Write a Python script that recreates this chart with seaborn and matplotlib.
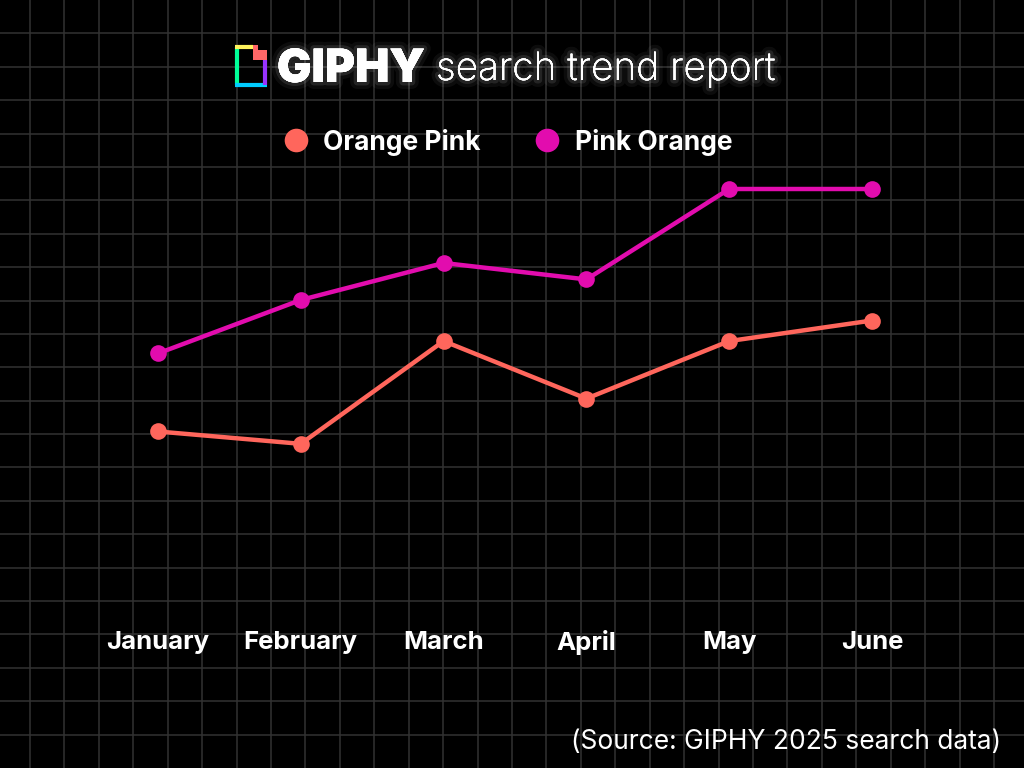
import matplotlib
matplotlib.use("Agg")
import matplotlib.pyplot as plt
import matplotlib.patheffects as pe
from matplotlib.lines import Line2D
import seaborn as sns
import pandas as pd

months = ["January", "February", "March", "April", "May", "June"]
orange_pink = [41, 38, 63, 49, 63, 68]
pink_orange = [60, 73, 82, 78, 100, 100]
series_names = ["Orange Pink", "Pink Orange"]
colors = {"Orange Pink": "#ff665c", "Pink Orange": "#e20cae"}

df = pd.DataFrame({
    "month": months * 2,
    "value": orange_pink + pink_orange,
    "series": [series_names[0]] * len(months) + [series_names[1]] * len(months),
})

sns.set_theme(style="dark")
FONT = "Inter"
plt.rcParams["font.family"] = [FONT, "DejaVu Sans"]

W, H = 1024, 768
fig = plt.figure(figsize=(W / 100, H / 100), dpi=100, facecolor="black")

# background grid (decorative, pixel coordinates)
bg = fig.add_axes([0, 0, 1, 1])
bg.set_xlim(0, W)
bg.set_ylim(H, 0)
bg.set_facecolor("black")
bg.axis("off")
gc = "#323232"
for k in range(29):
    bg.axvline(30 + 34.43 * k, color=gc, lw=1.1, zorder=0)
for k in range(1, 23):
    bg.axhline(k * H / 23, color=gc, lw=1.1, zorder=0)

# main axes
ax = fig.add_axes([86.6 / W, (H - 600) / H, (943.4 - 86.6) / W, (600 - 189) / H])
ax.set_facecolor("none")
sns.lineplot(data=df, x="month", y="value", hue="series", palette=colors,
             marker="o", markersize=12, markeredgewidth=0, linewidth=3.2,
             ax=ax, legend=False, sort=False)
for l in ax.lines:
    l.set_clip_on(False)
ax.set_xlim(-0.5, len(months) - 0.5)
ax.set_ylim(0, 100)
ax.set_xlabel("")
ax.set_ylabel("")
ax.set_yticks([])
ax.grid(False)
for s in ax.spines.values():
    s.set_visible(False)
ax.tick_params(axis="x", length=0, pad=30.5, labelsize=18.5, labelcolor="white")
for t in ax.get_xticklabels():
    t.set_fontweight("bold")
    t.set_va("center")

# legend
handles = [Line2D([], [], linestyle="none", marker="o", markersize=17,
                  markerfacecolor=colors[n], markeredgewidth=0) for n in series_names]
leg = fig.legend(handles, series_names, loc="center", ncol=2, frameon=False,
                 bbox_to_anchor=(506 / W, 1 - 142 / H), handlelength=1.2,
                 handletextpad=0.45, columnspacing=1.9,
                 prop={"weight": "bold", "size": 19})
for t in leg.get_texts():
    t.set_color("white")

# title with glow
glow = [pe.withStroke(linewidth=10, foreground=(1, 1, 1, 0.05)),
        pe.withStroke(linewidth=5, foreground=(1, 1, 1, 0.1)),
        pe.Normal()]
bg.text(277, 82, "GIPHY", color="white", fontsize=33, fontweight="black",
        ha="left", va="baseline", path_effects=glow)
bg.text(436, 80, "search trend report", color="white", fontsize=28,
        fontweight="light", ha="left", va="baseline", path_effects=glow)

# GIPHY logo icon
lw = 3.0
bg.plot([237, 237], [47, 85], color="#00ff99", lw=lw, solid_capstyle="butt")
bg.plot([235, 253], [47, 47], color="#fff35c", lw=lw, solid_capstyle="butt")
bg.plot([235, 267], [85, 85], color="#00ccff", lw=lw, solid_capstyle="butt")
bg.plot([265, 265], [60, 85], color="#9933ff", lw=lw, solid_capstyle="butt")
bg.fill([253, 258, 258, 267, 267, 253], [45, 45, 50, 50, 60, 60], color="#ff6666", lw=0)

# source
bg.text(1001, 742, "(Source: GIPHY 2025 search data)", color="white", fontsize=19,
        ha="right", va="center")

fig.savefig("out.png", dpi=100, facecolor="black")
